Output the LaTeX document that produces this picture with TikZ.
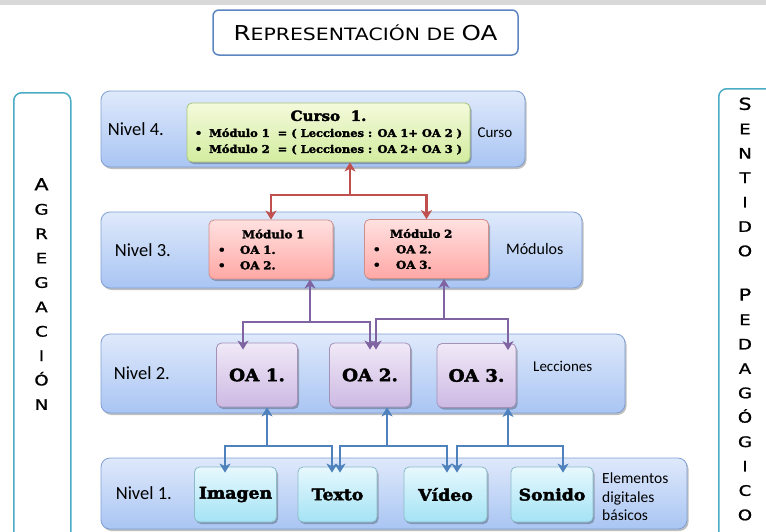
\documentclass[tikz,border=0pt]{standalone}
\usepackage{fontspec}
\setmainfont{Carlito}
\newfontfamily\heavyfont[FakeBold=2.5, FakeStretch=1.08]{DejaVu Serif}
\newfontfamily\capsfont[FakeStretch=1.2]{DejaVu Sans}
\newfontfamily\lettersfont[FakeStretch=1.25, FakeBold=1]{DejaVu Sans}
\usetikzlibrary{arrows.meta}
\usetikzlibrary{shadows}
\usetikzlibrary{positioning}
\definecolor{topbar}{HTML}{D9D9D9}
\definecolor{titleline}{HTML}{5B86C2}
\definecolor{sideline}{HTML}{4BACC6}
\definecolor{leveltop}{HTML}{DFE9FB}
\definecolor{levelbottom}{HTML}{A9C5F3}
\definecolor{levelline}{HTML}{7F9FD3}
\definecolor{greentop}{HTML}{F4FADB}
\definecolor{greenbottom}{HTML}{D2EC9F}
\definecolor{greenline}{HTML}{A6C67A}
\definecolor{pinktop}{HTML}{FFE1E0}
\definecolor{pinkbottom}{HTML}{FFA8A5}
\definecolor{pinkline}{HTML}{CF8F8C}
\definecolor{lilactop}{HTML}{F0E9F7}
\definecolor{lilacbottom}{HTML}{CDB9E3}
\definecolor{lilacline}{HTML}{A391B8}
\definecolor{cyantop}{HTML}{E7F8FD}
\definecolor{cyanbottom}{HTML}{A4E3F5}
\definecolor{cyanline}{HTML}{8DBBC8}
\definecolor{arrowred}{HTML}{C0504D}
\definecolor{arrowpurple}{HTML}{8064A2}
\definecolor{arrowblue}{HTML}{4F81BD}
\tikzset{boxshadow/.style = {drop shadow={shadow xshift=1.5pt, shadow yshift=-2pt,
                                          opacity=0.25, fill=black}}}
\tikzset{levelbox/.style = {draw=levelline, line width=0.8pt, rounded corners=9pt,
                            top color=leveltop, bottom color=levelbottom, boxshadow}}
\tikzset{cursobox/.style = {draw=greenline, line width=0.8pt, rounded corners=5pt,
                            top color=greentop, bottom color=greenbottom, boxshadow,
                            align=center, inner sep=0pt,
                            font=\heavyfont\bfseries\fontsize{10.6}{16}\selectfont}}
\tikzset{modbox/.style = {draw=pinkline, line width=0.8pt, rounded corners=5pt,
                          top color=pinktop, bottom color=pinkbottom, boxshadow,
                          align=left, text width=106pt, inner xsep=9pt,
                          minimum width=124pt, minimum height=59pt,
                          font=\heavyfont\bfseries\fontsize{11}{15.5}\selectfont}}
\tikzset{oabox/.style = {draw=lilacline, line width=0.8pt, rounded corners=5pt,
                         top color=lilactop, bottom color=lilacbottom, boxshadow,
                         minimum width=81pt, minimum height=64pt,
                         font=\heavyfont\bfseries\fontsize{17}{20}\selectfont}}
\tikzset{elembox/.style = {draw=cyanline, line width=0.8pt, rounded corners=5pt,
                           top color=cyantop, bottom color=cyanbottom, boxshadow,
                           minimum width=82pt, minimum height=55pt,
                           font=\heavyfont\bfseries\fontsize{16}{20}\selectfont}}
\tikzset{levellabel/.style = {inner sep=0pt, anchor=west,
                              font=\fontsize{18.5}{22}\selectfont}}
\tikzset{sidelabel/.style = {inner sep=0pt, anchor=west, align=left,
                             font=\fontsize{15.5}{18.5}\selectfont}}
\tikzset{sidebox/.style = {draw=sideline, line width=1.5pt, rounded corners=8pt, fill=white}}
\tikzset{sideletters/.style = {inner sep=0pt, align=center,
                               font=\lettersfont\fontsize{14.5}{24.4}\selectfont}}
\tikzset{redarrow/.style = {draw=arrowred, line width=2.5pt,
                            -{Stealth[length=9pt, width=11pt, inset=2.5pt]}}}
\tikzset{purplearrow/.style = {draw=arrowpurple, line width=2.5pt,
                               -{Stealth[length=9pt, width=11pt, inset=2.5pt]}}}
\tikzset{bluearrow/.style = {draw=arrowblue, line width=2.5pt,
                             -{Stealth[length=9pt, width=11pt, inset=2.5pt]}}}

\begin{document}
\begin{tikzpicture}[x=1pt, y=-1pt]
  \useasboundingbox (0,0) rectangle (766,531);
  \clip (0,0) rectangle (766,531);
  \fill [topbar] (0,0) rectangle (766,5);

  \node [draw=titleline, line width=1.5pt, rounded corners=6pt, fill=white,
         minimum width=305pt, minimum height=45pt, font=\capsfont] (title) at (365.5,32.5)
        {{\fontsize{20.5}{24}\selectfont R}{\fontsize{17}{24}\selectfont EPRESENTACIÓN DE }{\fontsize{20.5}{24}\selectfont OA}};

  \node [sidebox, anchor=north west, minimum width=57pt, minimum height=470pt] (agregbox) at (13,92) {};
  \node [sideletters] (agreg) at (41.5,294)
        {{\fontsize{16.5}{24.4}\selectfont A}\\G\\R\\E\\G\\A\\C\\I\\Ó\\N};
  \node [sidebox, anchor=north west, minimum width=80pt, minimum height=470pt] (sentbox) at (718,88) {};
  \node [sideletters] (sentido) at (745,309)
        {{\fontsize{16.5}{24.4}\selectfont S}\\E\\N\\T\\I\\D\\O\\[20pt]{\fontsize{16.5}{24.4}\selectfont P}\\E\\D\\A\\G\\Ó\\G\\I\\C\\O};

  \node [levelbox, minimum width=424pt, minimum height=76pt] (lvl4) at (313,129) {};
  \node [levelbox, minimum width=481pt, minimum height=76pt] (lvl3) at (341.5,250) {};
  \node [levelbox, minimum width=524pt, minimum height=79pt] (lvl2) at (363,373.5) {};
  \node [levelbox, minimum width=586pt, minimum height=71pt] (lvl1) at (394,493.5) {};

  \node [levellabel, right=7pt of lvl4.west] (niv4) {Nivel 4.};
  \node [levellabel, right=14pt of lvl3.west] (niv3) {Nivel 3.};
  \node [levellabel, right=13pt of lvl2.west] (niv2) {Nivel 2.};
  \node [levellabel, right=15pt of lvl1.west] (niv1) {Nivel 1.};

  \node [cursobox, minimum width=283pt, minimum height=59pt] (curso) at (328.5,132.5)
        {{\fontsize{14}{16}\selectfont Curso\ \ 1.}\\
         \textbullet\hspace{7pt}Módulo 1\ \ = ( Lecciones : OA 1+ OA 2 )\\
         \textbullet\hspace{7pt}Módulo 2\ \ = ( Lecciones : OA 2+ OA 3 )};
  \node [sidelabel, font=\fontsize{15}{18}\selectfont, right=7pt of curso.east] (lblcurso) {Curso};

  \node [modbox] (mod1) at (271,249.5)
        {\hspace*{24pt}Módulo 1\\ \makebox[22pt][l]{\textbullet}OA\ 1.\\ \makebox[22pt][l]{\textbullet}OA\ 2.};
  \node [modbox, inner xsep=8pt, text width=107pt] (mod2) at (426.5,249)
        {\hspace*{17pt}Módulo 2\\ \makebox[23pt][l]{\textbullet}OA\ 2.\\ \makebox[23pt][l]{\textbullet}OA\ 3.};
  \node [sidelabel, font=\fontsize{16}{18}\selectfont, right=17pt of mod2.east] (lblmod) {Módulos};

  \node [oabox] (oa1) at (257,375) {OA 1.};
  \node [oabox] (oa2) at (370,375) {OA 2.};
  \node [oabox, minimum width=79pt] (oa3) at (476.5,375.5) {OA 3.};
  \node [sidelabel, font=\fontsize{15}{18}\selectfont] (lblleccion) at (533,366) {Lecciones};

  \node [elembox] (imagen) at (235.5,494.5) {Imagen};
  \node [elembox, minimum width=79pt] (texto) at (337.5,494.5) {Texto};
  \node [elembox, minimum width=83pt] (video) at (445.5,494.5) {Vídeo};
  \node [elembox] (sonido) at (552,494.5) {Sonido};
  \node [sidelabel] (lblelem) at (602,497) {Elementos\\digitales\\básicos};

  \coordinate (redjoin) at (350,195);
  \draw [redarrow] (redjoin) -- (redjoin |- curso.south);
  \draw [redarrow] (redjoin) -| (mod1.north);
  \draw [redarrow] (redjoin) -| (mod2.north);

  \coordinate (purplejoinA) at (310,322);
  \coordinate (purplejoinB) at (444,319);
  \draw [purplearrow] (purplejoinA) -- (purplejoinA |- mod1.south);
  \draw [purplearrow, shorten >=-7pt] (purplejoinA) -| ([xshift=-14pt]oa1.north);
  \draw [purplearrow, shorten >=-7pt] (purplejoinA) -| (oa2.north);
  \draw [purplearrow] (purplejoinB) -- (purplejoinB |- mod2.south);
  \draw [purplearrow, shorten >=-7pt] (purplejoinB) -| ([xshift=6pt]oa2.north);
  \draw [purplearrow, shorten >=-7pt] (purplejoinB) -| ([xshift=31.5pt]oa3.north);

  \coordinate (bluejoinA) at (267,446);
  \coordinate (bluejoinB) at (387,446);
  \coordinate (bluejoinC) at (508,446);
  \draw [bluearrow] (bluejoinA) -- (bluejoinA |- oa1.south);
  \draw [bluearrow, shorten >=-6pt] (bluejoinA) -| ([xshift=-10.5pt]imagen.north);
  \draw [bluearrow, shorten >=-6pt] (bluejoinA) -| ([xshift=-5.5pt]texto.north);
  \draw [bluearrow] (bluejoinB) -- (bluejoinB |- oa2.south);
  \draw [bluearrow, shorten >=-6pt] (bluejoinB) -| ([xshift=2.5pt]texto.north);
  \draw [bluearrow, shorten >=-6pt] (bluejoinB) -| ([xshift=1.5pt]video.north);
  \draw [bluearrow] (bluejoinC) -- (bluejoinC |- oa3.south);
  \draw [bluearrow, shorten >=-6pt] (bluejoinC) -| ([xshift=11.5pt]video.north);
  \draw [bluearrow, shorten >=-6pt] (bluejoinC) -| ([xshift=11pt]sonido.north);
\end{tikzpicture}
\end{document}
